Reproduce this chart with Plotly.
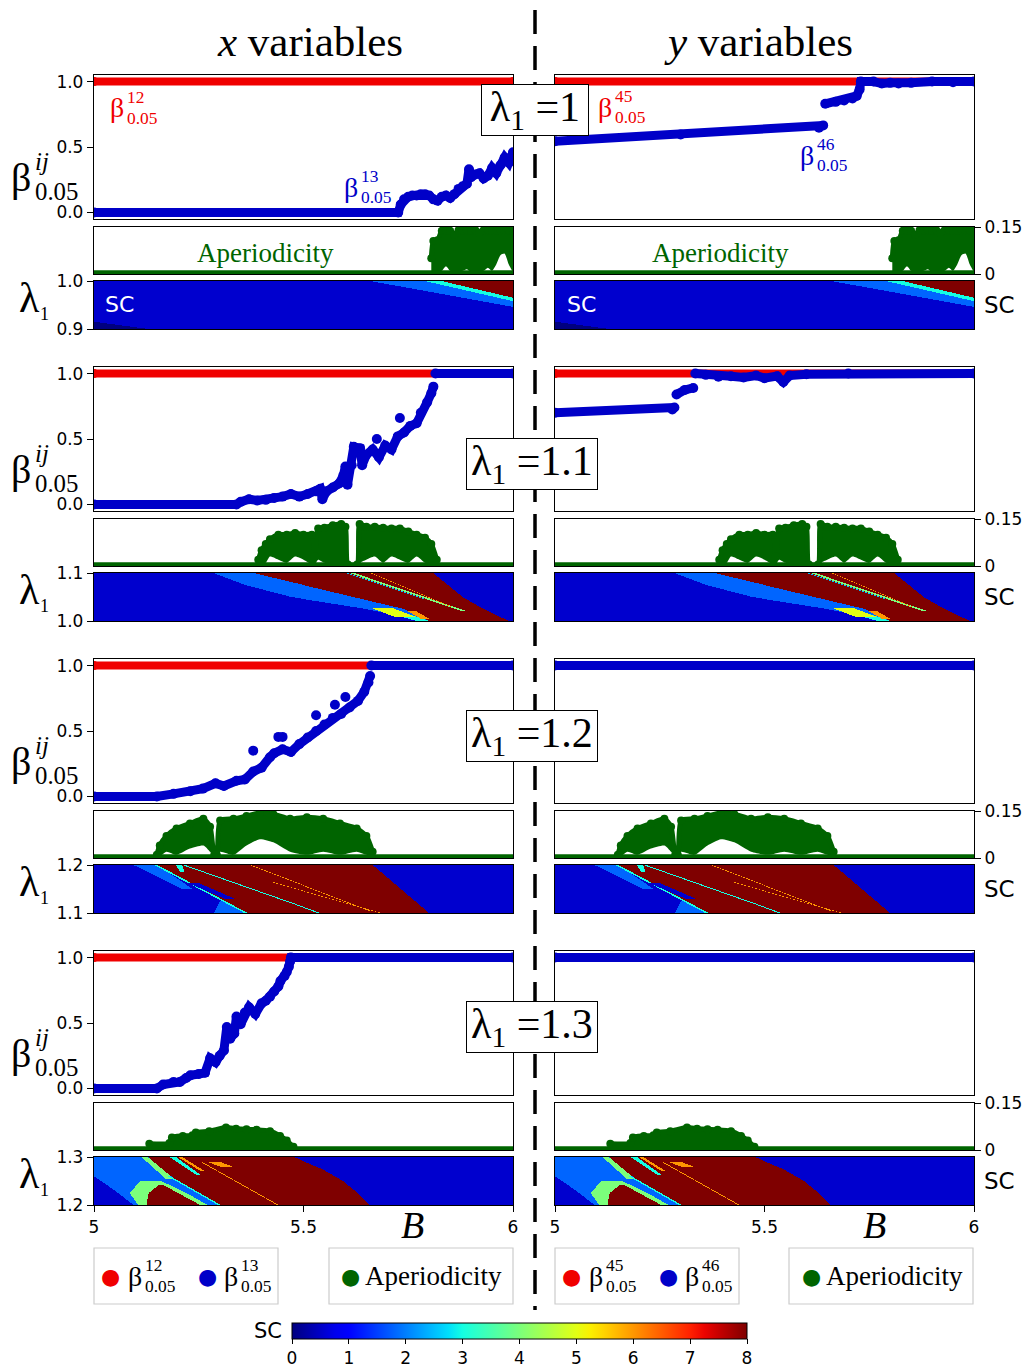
import numpy as np
import plotly.graph_objects as go

W, H = 1030, 1367
SERIF = "Liberation Serif"
SANS = "DejaVu Sans"

# ---------------- values ----------------
LAMBDA_LO = [0.9, 1.0, 1.1, 1.2]
LAMBDA_LABEL = ["1", "1.1", "1.2", "1.3"]
B_TICKS = [5, 5.5, 6]
B_TICKTEXT = ["5", "5.5", "6"]

# beta^{12}_{0.05} / beta^{45}_{0.05} (red): saturated at 1 over the whole B range
RED_B = [5.0, 6.0]
RED_V = [1.0, 1.0]

# beta^{13}_{0.05} (x variables, blue) and beta^{46}_{0.05} (y variables, blue)
X1_B = [5.0, 5.726, 5.732, 5.74, 5.75, 5.76, 5.77, 5.78, 5.79, 5.80, 5.81, 5.82, 5.83, 5.84, 5.85, 5.86,
        5.87, 5.88, 5.89, 5.895, 5.90, 5.91, 5.92, 5.93, 5.94, 5.95, 5.96, 5.97, 5.98, 5.99, 6.0]
X1_V = [0.0, 0.0, 0.06, 0.10, 0.12, 0.13, 0.13, 0.14, 0.14, 0.13, 0.10, 0.09, 0.12, 0.13, 0.11, 0.14,
        0.18, 0.20, 0.22, 0.33, 0.27, 0.29, 0.30, 0.26, 0.28, 0.34, 0.30, 0.36, 0.42, 0.38, 0.46]
Y1_B = [5.0, 5.30, 5.63, 5.64, None, 5.645, 5.67, 5.69, 5.71, 5.72, 5.727, 5.73, 5.76, 5.78, 5.80,
        5.82, 5.85, 5.90, 5.95, 6.0]
Y1_V = [0.544, 0.595, 0.647, 0.665, None, 0.83, 0.845, 0.855, 0.87, 0.89, 0.94, 1.0, 1.0, 0.985, 0.99,
        0.985, 0.99, 1.0, 0.995, 1.0]

X2_B = [5.0, 5.34, 5.35, 5.37, 5.39, 5.41, 5.43, 5.45, 5.47, 5.49, 5.51, 5.53, 5.54, 5.545, 5.555, 5.57,
        5.585, 5.595, 5.60, 5.605, 5.615, 5.62, 5.635, 5.64, 5.65, 5.665, 5.68, 5.695, 5.71, 5.725, 5.74,
        5.755, 5.77, 5.78, 5.795, 5.805, 5.81, None, 5.815, 6.0]
X2_V = [0.0, 0.0, 0.02, 0.04, 0.03, 0.035, 0.05, 0.06, 0.08, 0.06, 0.08, 0.10, 0.12, 0.04, 0.10, 0.13,
        0.16, 0.22, 0.29, 0.15, 0.30, 0.44, 0.43, 0.30, 0.38, 0.42, 0.36, 0.45, 0.42, 0.52, 0.55,
        0.60, 0.62, 0.70, 0.78, 0.85, 0.90, None, 1.0, 1.0]
X2_OUT_B = [5.73, 5.675]
X2_OUT_V = [0.66, 0.50]
Y2_B = [5.0, 5.28, 5.285, None, 5.29, 5.31, 5.33, None, 5.335, 5.36, 5.39, 5.42, 5.45, 5.48, 5.50,
        5.53, 5.545, 5.56, 5.60, 5.70, 6.0]
Y2_V = [0.70, 0.725, 0.74, None, 0.84, 0.875, 0.89, None, 1.0, 0.99, 0.975, 0.98, 0.97, 0.985, 0.965,
        0.98, 0.935, 0.985, 0.995, 1.0, 1.0]

X3_B = [5.0, 5.15, 5.19, 5.23, 5.26, 5.29, 5.31, 5.34, 5.36, 5.38, 5.40, 5.42, 5.43, 5.45, 5.47, 5.49,
        5.51, 5.53, 5.55, 5.57, 5.59, 5.61, 5.63, 5.645, 5.655, 5.659, None, 5.662, 6.0]
X3_V = [0.0, 0.0, 0.02, 0.04, 0.06, 0.10, 0.08, 0.12, 0.13, 0.19, 0.22, 0.30, 0.33, 0.36, 0.34, 0.40,
        0.45, 0.50, 0.55, 0.60, 0.63, 0.68, 0.73, 0.80, 0.87, 0.92, None, 1.0, 1.0]
X3_OUT_B = [5.38, 5.44, 5.45, 5.53, 5.575, 5.60]
X3_OUT_V = [0.35, 0.455, 0.455, 0.62, 0.70, 0.76]
Y3_B = [5.0, 6.0]
Y3_V = [1.0, 1.0]

X4_B = [5.0, 5.15, 5.165, 5.19, 5.205, 5.22, 5.23, 5.25, 5.265, 5.277, 5.29, 5.30, 5.31, 5.317, 5.325,
        5.335, 5.34, 5.35, 5.36, 5.37, 5.385, 5.40, 5.41, 5.42, 5.43, 5.44, 5.445, 5.455, 5.46, 5.465,
        5.468, 5.47, 6.0]
X4_V = [0.0, 0.0, 0.03, 0.05, 0.05, 0.08, 0.10, 0.11, 0.12, 0.23, 0.20, 0.25, 0.29, 0.47, 0.38,
        0.42, 0.55, 0.49, 0.58, 0.62, 0.57, 0.65, 0.67, 0.70, 0.74, 0.78, 0.82, 0.86, 0.89, 0.93,
        0.97, 1.0, 1.0]
Y4_B = [5.0, 6.0]
Y4_V = [1.0, 1.0]

# aperiodicity: near-zero floor plus the envelope of the aperiodic band
AP_BASE_B = [5.0, 6.0]
AP_BASE_V = [0.004, 0.004]
AP1_B = [5.805, 5.81, 5.82, 5.83, 5.84, 5.85, 5.86, 5.87, 5.88, 5.89, 5.90, 5.91, 5.92, 5.93, 5.94,
         5.95, 5.96, 5.97, 5.98, 5.99, 6.0]
AP1_HI = [0.05, 0.105, 0.108, 0.138, 0.14, 0.138, 0.125, 0.14, 0.14, 0.14, 0.138, 0.14, 0.132, 0.14,
          0.14, 0.14, 0.138, 0.14, 0.14, 0.14, 0.138]
AP1_LO = [0.004, 0.004, 0.005, 0.01, 0.025, 0.01, 0.005, 0.004, 0.01, 0.015, 0.005, 0.004, 0.005, 0.01,
          0.02, 0.01, 0.03, 0.06, 0.065, 0.03, 0.005]
AP2_B = [5.392, 5.40, 5.41, 5.42, 5.44, 5.46, 5.48, 5.50, 5.52, 5.527, 5.535, 5.55, 5.57, 5.59, 5.600,
         5.606, 5.628, 5.634, 5.65, 5.67, 5.69, 5.71, 5.73, 5.75, 5.77, 5.79, 5.805, 5.818]
AP2_HI = [0.02, 0.05, 0.07, 0.085, 0.10, 0.10, 0.105, 0.10, 0.10, 0.03, 0.12, 0.122, 0.13, 0.134, 0.125,
          0.005, 0.005, 0.134, 0.125, 0.125, 0.122, 0.12, 0.12, 0.11, 0.10, 0.09, 0.07, 0.02]
AP2_LO = [0.004, 0.005, 0.01, 0.03, 0.02, 0.01, 0.03, 0.02, 0.005, 0.005, 0.02, 0.01, 0.005, 0.005,
          0.005, 0.005, 0.005, 0.01, 0.02, 0.03, 0.01, 0.03, 0.02, 0.01, 0.03, 0.01, 0.005, 0.004]
AP3_B = [5.150, 5.157, 5.173, 5.197, 5.229, 5.261, 5.277, 5.287, 5.293, 5.301, 5.333, 5.364, 5.396,
         5.428, 5.468, 5.508, 5.547, 5.587, 5.627, 5.65, 5.665]
AP3_HI = [0.01, 0.04, 0.07, 0.094, 0.11, 0.125, 0.10, 0.01, 0.01, 0.12, 0.125, 0.134, 0.144, 0.14,
          0.125, 0.13, 0.125, 0.11, 0.094, 0.07, 0.02]
AP3_LO = [0.004, 0.005, 0.02, 0.01, 0.03, 0.04, 0.02, 0.005, 0.005, 0.02, 0.01, 0.04, 0.06, 0.05,
          0.02, 0.01, 0.02, 0.01, 0.02, 0.01, 0.004]
AP4_B = [5.132, 5.18, 5.186, 5.212, 5.235, 5.243, 5.275, 5.315, 5.339, 5.364, 5.388, 5.42, 5.444,
         5.46, 5.476]
AP4_HI = [0.02, 0.022, 0.04, 0.045, 0.047, 0.056, 0.06, 0.072, 0.068, 0.066, 0.065, 0.06, 0.045,
          0.03, 0.01]
AP4_LO = [0.0, 0.0, 0.0, 0.0, 0.0, 0.0, 0.0, 0.0, 0.0, 0.0, 0.0, 0.0, 0.0, 0.0, 0.0]

# SC maps over (B, lambda_1): regions as (SC value, height fractions, left B edge, right B edge)
SC_BASE = 0.55
SC1 = [
    (0, [0, 1], [4.0, 4.0], [5.13, 4.27]),
    (1.8, [0, 1], [6.29, 5.66], [7.0, 7.0]),
    (3, [0, 1], [6.29, 5.79], [7.0, 7.0]),
    (8, [0, 1], [6.316, 5.83], [7.0, 7.0]),
]
SC2 = [
    (1.8, [0, 0.25, 0.5, 0.75, 1], [5.79, 5.65, 5.47, 5.36, 5.284], [5.80, 5.74, 5.62, 5.50, 5.38]),
    (3, [0, 0.15], [5.77, 5.71], [5.80, 5.75]),
    (8, [0, 0.25, 0.5, 0.75, 1], [5.80, 5.74, 5.62, 5.50, 5.38], [5.99, 5.93, 5.88, 5.845, 5.81]),
    (5, [0.08, 0.28], [5.72, 5.66], [5.77, 5.71]),
    (6, [0.05, 0.2], [5.78, 5.75], [5.80, 5.77]),
    (4, [0.2, 1], [5.88, 5.61], [5.892, 5.622]),
    (2.5, [0.45, 1], [5.79, 5.60], [5.795, 5.606]),
    (6, [0.3, 1], [5.85, 5.66], [5.853, 5.663]),
]
SC3 = [
    (1.8, [0, 0.24], [5.285, 5.30], [5.365, 5.33]),
    (1.8, [0.5, 1], [5.21, 5.094], [5.235, 5.15]),
    (8, [0, 1], [5.365, 5.15], [5.80, 5.666]),
    (3, [0, 1], [5.358, 5.143], [5.366, 5.151]),
    (0.55, [0.3, 0.62], [5.31, 5.225], [5.335, 5.25]),
    (3, [0, 1], [5.535, 5.21], [5.542, 5.217]),
    (6, [0, 0.65], [5.683, 5.42], [5.687, 5.424]),
    (6, [0.05, 1], [5.655, 5.37], [5.659, 5.374]),
    (3, [0.85, 1], [5.205, 5.195], [5.215, 5.21]),
]
SC4 = [
    (1.8, [0, 1], [4.0, 4.0], [5.5, 5.3]),
    (0.55, [0, 0.3, 0.6], [4.0, 4.0, 4.0], [5.094, 5.05, 5.0]),
    (4, [0, 0.25, 0.5], [5.105, 5.085, 5.11], [5.27, 5.22, 5.16]),
    (8, [0, 0.25, 0.42], [5.125, 5.13, 5.155], [5.253, 5.2, 5.165]),
    (8, [0, 0.25, 0.5, 0.75, 1], [5.30, 5.25, 5.20, 5.16, 5.13], [5.659, 5.63, 5.595, 5.545, 5.476]),
    (4, [0.55, 1], [5.17, 5.113], [5.19, 5.128]),
    (3, [0.62, 1], [5.245, 5.18], [5.255, 5.195]),
    (6, [0.7, 1], [5.255, 5.2], [5.265, 5.21]),
    (3, [0, 0.6], [5.295, 5.175], [5.302, 5.182]),
    (6, [0, 0.9], [5.436, 5.253], [5.44, 5.257]),
    (6, [0.8, 0.9], [5.3, 5.27], [5.33, 5.3]),
]

BLUE = {(0, 0): (X1_B, X1_V), (0, 1): (Y1_B, Y1_V), (1, 0): (X2_B, X2_V), (1, 1): (Y2_B, Y2_V),
        (2, 0): (X3_B, X3_V), (2, 1): (Y3_B, Y3_V), (3, 0): (X4_B, X4_V), (3, 1): (Y4_B, Y4_V)}
OUTLIERS = {(1, 0): (X2_OUT_B, X2_OUT_V), (2, 0): (X3_OUT_B, X3_OUT_V)}
APER = [(AP1_B, AP1_HI, AP1_LO), (AP2_B, AP2_HI, AP2_LO), (AP3_B, AP3_HI, AP3_LO), (AP4_B, AP4_HI, AP4_LO)]
SC_MAPS = [SC1, SC2, SC3, SC4]

# ---------------- styling ----------------
RED = "#f00000"
BLUEC = "#0000c8"
GREEN = "#006400"


def mpl_jet(n=33):
    s = np.linspace(0, 1, n)
    r = np.interp(s, [0, 0.35, 0.66, 0.89, 1], [0, 0, 1, 1, 0.5])
    g = np.interp(s, [0, 0.125, 0.375, 0.64, 0.91, 1], [0, 0, 1, 1, 0, 0])
    b = np.interp(s, [0, 0.11, 0.34, 0.65, 1], [0.5, 1, 1, 0, 0])
    return [[float(v), f"rgb({int(255*rr)},{int(255*gg)},{int(255*bb)})"] for v, rr, gg, bb in zip(s, r, g, b)]


def sc_grid(regions, nx=420, ny=48):
    bx = 5 + (np.arange(nx) + 0.5) / nx
    fy = (np.arange(ny) + 0.5) / ny
    z = np.full((ny, nx), float(SC_BASE))
    for val, fr, left, right in regions:
        lb = np.interp(fy, fr, left, left=np.nan, right=np.nan)
        rb = np.interp(fy, fr, right, left=np.nan, right=np.nan)
        m = (bx[None, :] >= lb[:, None]) & (bx[None, :] <= rb[:, None])
        z[m] = val
    return bx, fy, z


PANEL_PX = [(75, 219), (227, 274), (281, 329)]   # beta, aperiodicity, SC
COL_PX = [(94, 513), (555, 974)]
BLOCK_STEP = 292

fig = go.Figure()
layout = dict(width=W, height=H, margin=dict(l=0, r=0, t=0, b=0, autoexpand=False),
              paper_bgcolor="white", plot_bgcolor="white", showlegend=False)

tickfont = dict(family=SANS, size=17, color="black")
base_ax = dict(showline=True, mirror=True, linecolor="black", linewidth=1.3, showgrid=False,
               zeroline=False, ticks="", showticklabels=False, fixedrange=True, automargin=False)

grids = [sc_grid(r) for r in SC_MAPS]

for b in range(4):
    off = BLOCK_STEP * b
    lo = LAMBDA_LO[b]
    for c in range(2):
        for p in range(3):
            n = b * 6 + c * 3 + p + 1
            sfx = "" if n == 1 else str(n)
            top, bot = PANEL_PX[p]
            top += off
            bot += off
            x0, x1 = COL_PX[c]
            xa = dict(base_ax, domain=[x0 / W, x1 / W], range=[5, 6], anchor="y" + sfx)
            ya = dict(base_ax, domain=[1 - bot / H, 1 - top / H], anchor="x" + sfx)
            if p == 2 and b == 3:
                xa.update(ticks="outside", ticklen=6, tickcolor="black", tickvals=B_TICKS,
                          ticktext=B_TICKTEXT, showticklabels=True, tickfont=tickfont)
            if p == 0:
                ya.update(range=[-0.05, 1.05])
                if c == 0:
                    ya.update(ticks="outside", ticklen=6, tickcolor="black", tickvals=[0, 0.5, 1],
                              ticktext=["0.0", "0.5", "1.0"], showticklabels=True, tickfont=tickfont)
            elif p == 1:
                ya.update(range=[0, 0.15])
                if c == 1:
                    ya.update(side="right", ticks="outside", ticklen=6, tickcolor="black",
                              tickvals=[0, 0.15], ticktext=["0", "0.15"], showticklabels=True,
                              tickfont=tickfont)
            else:
                ya.update(range=[lo, lo + 0.1])
                if c == 0:
                    ya.update(ticks="outside", ticklen=6, tickcolor="black", tickvals=[lo, lo + 0.1],
                              ticktext=[f"{lo:.1f}", f"{lo + 0.1:.1f}"], showticklabels=True,
                              tickfont=tickfont)
            layout["xaxis" + sfx] = xa
            layout["yaxis" + sfx] = ya
            xr, yr = "x" + sfx, "y" + sfx

            if p == 0:
                fig.add_trace(go.Scatter(x=RED_B, y=RED_V, mode="lines+markers", xaxis=xr, yaxis=yr,
                                         line=dict(color=RED, width=8), marker=dict(color=RED, size=9)))
                bb, bv = BLUE[(b, c)]
                fig.add_trace(go.Scatter(x=bb, y=bv, mode="lines+markers", xaxis=xr, yaxis=yr,
                                         connectgaps=False,
                                         line=dict(color=BLUEC, width=9), marker=dict(color=BLUEC, size=10)))
                if (b, c) in OUTLIERS:
                    ob, ov = OUTLIERS[(b, c)]
                    fig.add_trace(go.Scatter(x=ob, y=ov, mode="markers", xaxis=xr, yaxis=yr,
                                             marker=dict(color=BLUEC, size=10)))
            elif p == 1:
                ab, ahi, alo = APER[b]
                fig.add_trace(go.Scatter(x=AP_BASE_B, y=AP_BASE_V, mode="lines", xaxis=xr, yaxis=yr,
                                         line=dict(color=GREEN, width=5)))
                fig.add_trace(go.Scatter(x=ab, y=alo, mode="lines", xaxis=xr, yaxis=yr,
                                         line=dict(color=GREEN, width=0, shape="spline", smoothing=0.6)))
                fig.add_trace(go.Scatter(x=ab, y=ahi, mode="lines+markers", xaxis=xr, yaxis=yr,
                                         fill="tonexty", fillcolor=GREEN,
                                         line=dict(color=GREEN, width=5, shape="spline", smoothing=0.6),
                                         marker=dict(color=GREEN, size=8)))
            else:
                bx, fy, z = grids[b]
                fig.add_trace(go.Heatmap(x=bx, y=lo + 0.1 * fy, z=z, coloraxis="coloraxis",
                                         xaxis=xr, yaxis=yr, hoverinfo="skip"))

layout["coloraxis"] = dict(
    cmin=0, cmax=8, colorscale=mpl_jet(),
    colorbar=dict(orientation="h", x=519.5 / W, xanchor="center", y=1 - 1322.5 / H, yanchor="top",
                  len=455, lenmode="pixels", thickness=16, thicknessmode="pixels", xpad=0, ypad=0,
                  outlinecolor="black", outlinewidth=1, ticks="outside", ticklen=5, tickcolor="black",
                  tickvals=list(range(9)), tickfont=dict(family=SANS, size=17, color="black")))


def txt(px, py, s, size, color="black", family=SERIF, xa="center", ya="middle", **kw):
    return dict(x=px / W, y=1 - py / H, xref="paper", yref="paper", text=s, showarrow=False,
                xanchor=xa, yanchor=ya, font=dict(size=size, color=color, family=family), **kw)


def beta(px, py, sup, sub, color, size, sup_italic=False):
    s2 = size * 0.62
    sup_s = f"<i>{sup}</i>" if sup_italic else sup
    return [txt(px, py, "β", size, color),
            txt(px + 0.3 * size, py - 0.38 * size, sup_s, s2, color, xa="left"),
            txt(px + 0.3 * size, py + 0.36 * size, sub, s2, color, xa="left")]


anns = []
anns.append(txt(310, 42, "<i>x</i> variables", 43))
anns.append(txt(758, 42, "<i>y</i> variables", 43))

for b in range(4):
    off = BLOCK_STEP * b
    anns += beta(21, 177 + off, "ij", "0.05", "black", 40, sup_italic=True)
    anns.append(txt(29, 298 + off, "λ", 42))
    anns.append(txt(44, 314 + off, "1", 18))
    anns.append(txt(999, 305 + off, "SC", 23, family=SANS))

# lambda_1 value boxes
for (cx, cy, w), lab in zip([(534.5, 110, 100), (532, 464, 124), (532, 736.5, 124), (532, 1026.5, 124)],
                            LAMBDA_LABEL):
    anns.append(txt(cx, cy, f"λ<sub>1</sub> =" + lab, 42, bgcolor="white", bordercolor="black",
                    borderwidth=1, borderpad=3, width=w, height=44))

# in-panel labels (first block)
anns += beta(117, 108, "12", "0.05", RED, 28)
anns += beta(351, 187, "13", "0.05", BLUEC, 28)
anns += beta(605, 107, "45", "0.05", RED, 28)
anns += beta(807, 155, "46", "0.05", BLUEC, 28)
anns.append(txt(265, 253, "Aperiodicity", 27, GREEN))
anns.append(txt(720, 253, "Aperiodicity", 27, GREEN))
anns.append(txt(119, 305, "SC", 22, "white", SANS))
anns.append(txt(581, 305, "SC", 22, "white", SANS))

# B axis labels
anns.append(txt(412, 1225, "<i>B</i>", 38))
anns.append(txt(874, 1225, "<i>B</i>", 38))

# legends
for dx, sups in [(0, ("12", "13")), (461, ("45", "46"))]:
    anns.append(txt(110 + dx, 1276, "●", 22, RED, SANS))
    anns += beta(135 + dx, 1276, sups[0], "0.05", "black", 28)
    anns.append(txt(207 + dx, 1276, "●", 22, BLUEC, SANS))
    anns += beta(231 + dx, 1276, sups[1], "0.05", "black", 28)
    anns.append(txt(350 + dx, 1276, "●", 22, GREEN, SANS))
    anns.append(txt(363 + dx, 1276, "Aperiodicity", 27, xa="left"))

anns.append(txt(268, 1331, "SC", 21, family=SANS))
layout["annotations"] = anns

shapes = [dict(type="line", xref="paper", yref="paper", x0=535 / W, x1=535 / W, y0=1 - 10 / H,
               y1=1 - 1310 / H, line=dict(color="black", width=3.5, dash="24px,12px"))]
for x0, x1 in [(94, 278), (329, 513), (555, 739), (789, 973)]:
    shapes.append(dict(type="rect", xref="paper", yref="paper", x0=x0 / W, x1=x1 / W,
                       y0=1 - 1304 / H, y1=1 - 1248 / H, line=dict(color="#cccccc", width=1.2)))
layout["shapes"] = shapes

fig.update_layout(**layout)
fig.write_html("out.html")
